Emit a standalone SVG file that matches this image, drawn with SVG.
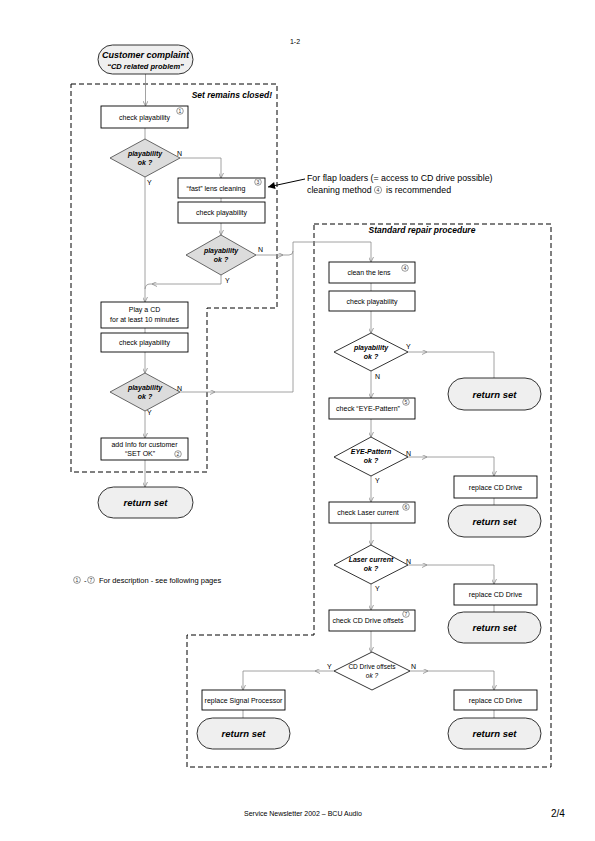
<svg xmlns="http://www.w3.org/2000/svg" width="595" height="841" viewBox="0 0 595 841">
<style>
.box{fill:#fff;stroke:#000;stroke-width:0.9}
.dia{fill:#dcdcdc;stroke:#444;stroke-width:0.8}
.diaw{fill:#fff;stroke:#000;stroke-width:0.8}
.term{fill:#efefef;stroke:#000;stroke-width:0.8}
.zone{fill:none;stroke:#000;stroke-width:1;stroke-dasharray:5,3}
text{font-family:"Liberation Sans",Arial,sans-serif;fill:#000}
.t{font-size:7px;text-anchor:middle}
.bi{font-weight:bold;font-style:italic}
.yn{font-size:7px}
.c{fill:none;stroke:#8a8a8a;stroke-width:0.8}
.a{marker-end:url(#arr)}
.num{fill:#fff;stroke:#555;stroke-width:0.6}
.nt{font-size:5px;text-anchor:middle;fill:#333}
</style>
<defs>
<marker id="arr" viewBox="0 0 10 10" refX="10" refY="5" markerWidth="5" markerHeight="5" markerUnits="userSpaceOnUse" orient="auto">
<path d="M0,0 L10,5 L0,10" fill="none" stroke="#8a8a8a" stroke-width="1.6"/>
</marker>
<marker id="fa" viewBox="0 0 10 10" refX="10" refY="5" markerWidth="9" markerHeight="7" markerUnits="userSpaceOnUse" orient="auto">
<path d="M0,0 L10,5 L0,10 Z" fill="#000"/>
</marker>
</defs>

<text x="295" y="44" style="font-size:7px" text-anchor="middle">1-2</text>

<g id="zones">
<path class="zone" d="M71,84 H277 V308 H207 V472 H71 Z"/>
<text x="272" y="98" class="bi" style="font-size:8.5px" text-anchor="end">Set remains closed!</text>
<path class="zone" d="M314,224 H551 V767 H187 V635 H314 Z"/>
<text x="422" y="233" class="bi" style="font-size:8.5px" text-anchor="middle">Standard repair procedure</text>
</g>

<g id="connectors">
<path class="c a" d="M145.5,74 V106"/>
<path class="c" d="M145,128 V139"/>
<path class="c a" d="M180,158 H221 V178"/>
<path class="c" d="M221,198 V202"/>
<path class="c a" d="M221,223 V235"/>
<path class="c a" d="M145,177 V302"/>
<path class="c a" d="M221,275 V284 H152"/>
<path class="c" d="M152,284 H150 Q145.5,284 145,289"/>
<path class="c a" d="M256,255 H283"/>
<path class="c" d="M283,255 H289 Q293,255 293,251"/>
<path class="c a" d="M180,392 H215"/>
<path class="c a" d="M215,392 H293 V242 H371 V262"/>
<path class="c" d="M145,328 V333"/>
<path class="c a" d="M145,352 V373"/>
<path class="c a" d="M145,411 V438"/>
<path class="c a" d="M145,460 V487"/>
<path class="c" d="M371,283 V291"/>
<path class="c a" d="M371,311 V333"/>
<path class="c a" d="M408,352 H427"/>
<path class="c" d="M427,352 H494 V378"/>
<path class="c a" d="M371,371 V398"/>
<path class="c a" d="M371,419 V437"/>
<path class="c a" d="M408,457 H427"/>
<path class="c a" d="M427,457 H494 V476"/>
<path class="c" d="M494,498 V505"/>
<path class="c a" d="M371,476 V502"/>
<path class="c a" d="M371,523 V545"/>
<path class="c a" d="M408,565 H427"/>
<path class="c a" d="M427,565 H494 V584"/>
<path class="c" d="M494,605 V612"/>
<path class="c a" d="M371,584 V610"/>
<path class="c a" d="M371,631 V652"/>
<path class="c a" d="M334,671 H315"/>
<path class="c a" d="M315,671 H243 V690"/>
<path class="c" d="M243,710 V718"/>
<path class="c a" d="M410,671 H428"/>
<path class="c a" d="M428,671 H494 V690"/>
<path class="c" d="M494,710 V718"/>
<path d="M305,179 L268,187" fill="none" stroke="#000" stroke-width="1" marker-end="url(#fa)"/>
</g>

<g id="start">
<rect class="term" x="98" y="45" width="95" height="29" rx="14.5"/>
<text x="145.5" y="58" class="t bi" style="font-size:9px">Customer complaint</text>
<text x="145.5" y="68.5" class="t bi" style="font-size:7.5px">“CD related problem”</text>
</g>

<g id="n1">
<rect class="box" x="101" y="106" width="87" height="22"/>
<text x="144.5" y="119.5" class="t">check playability</text>
<circle class="num" cx="180" cy="111" r="3.3"/><text x="180" y="112.8" class="nt">1</text>
</g>
<g id="d1">
<polygon class="dia" points="145,139 180,158 145,177 110,158"/>
<text x="145" y="155.5" class="t bi">playability</text>
<text x="145" y="164.5" class="t bi">ok ?</text>
<text x="177" y="156" class="yn">N</text>
<text x="147" y="185" class="yn">Y</text>
</g>
<g id="n3">
<rect class="box" x="178" y="178" width="87" height="20"/>
<text x="216" y="190.5" class="t">“fast” lens cleaning</text>
<circle class="num" cx="258" cy="182" r="3.3"/><text x="258" y="183.8" class="nt">3</text>
</g>
<g id="n3b">
<rect class="box" x="178" y="202" width="87" height="21"/>
<text x="221.5" y="215" class="t">check playability</text>
</g>
<g id="d2">
<polygon class="dia" points="221,235 256,255 221,275 186,255"/>
<text x="221" y="252.5" class="t bi">playability</text>
<text x="221" y="261.5" class="t bi">ok ?</text>
<text x="258" y="252" class="yn">N</text>
<text x="225" y="283" class="yn">Y</text>
</g>
<g id="note">
<text x="307" y="181" style="font-size:8.8px">For flap loaders (= access to CD drive possible)</text>
<text x="307" y="193" style="font-size:8.8px">cleaning method <tspan dx="12">is recommended</tspan></text>
<circle class="num" cx="378" cy="190" r="3.6"/><text x="378" y="191.8" class="nt">4</text>
</g>
<g id="n_play">
<rect class="box" x="101" y="302" width="87" height="26"/>
<text x="144.5" y="312" class="t">Play a CD</text>
<text x="144.5" y="322" class="t">for at least 10 minutes</text>
</g>
<g id="n_check3">
<rect class="box" x="101" y="333" width="87" height="19"/>
<text x="144.5" y="345" class="t">check playability</text>
</g>
<g id="d3">
<polygon class="dia" points="145,373 180,392 145,411 110,392"/>
<text x="145" y="389.5" class="t bi">playability</text>
<text x="145" y="398.5" class="t bi">ok ?</text>
<text x="177" y="391" class="yn">N</text>
<text x="147" y="415" class="yn">Y</text>
</g>
<g id="n2">
<rect class="box" x="101" y="438" width="87" height="22"/>
<text x="144.5" y="447" class="t">add Info for customer</text>
<text x="140" y="456" class="t">“SET OK”</text>
<circle class="num" cx="178" cy="454" r="3.3"/><text x="178" y="455.8" class="nt">2</text>
</g>
<g id="ret1">
<rect class="term" x="98" y="487" width="95" height="31" rx="15.5"/>
<text x="145.5" y="506" class="t bi" style="font-size:9.5px">return set</text>
</g>

<g id="n4">
<rect class="box" x="329" y="262" width="86" height="21"/>
<text x="369" y="275" class="t">clean the lens</text>
<circle class="num" cx="405" cy="268" r="3.3"/><text x="405" y="269.8" class="nt">4</text>
</g>
<g id="n4b">
<rect class="box" x="329" y="291" width="86" height="20"/>
<text x="372" y="303.5" class="t">check playability</text>
</g>
<g id="d4">
<polygon class="diaw" points="371,333 408,352 371,371 334,352"/>
<text x="371" y="349.5" class="t bi">playability</text>
<text x="371" y="358.5" class="t bi">ok ?</text>
<text x="406" y="349" class="yn">Y</text>
<text x="375" y="379" class="yn">N</text>
</g>
<g id="ret2">
<rect class="term" x="448" y="378" width="93" height="32" rx="16"/>
<text x="494.5" y="397.5" class="t bi" style="font-size:9.5px">return set</text>
</g>
<g id="n5">
<rect class="box" x="329" y="398" width="86" height="21"/>
<text x="368" y="411" class="t">check “EYE-Pattern”</text>
<circle class="num" cx="406" cy="402" r="3.3"/><text x="406" y="403.8" class="nt">5</text>
</g>
<g id="d5">
<polygon class="diaw" points="371,437 408,457 371,476 334,457"/>
<text x="371" y="454" class="t bi">EYE-Pattern</text>
<text x="371" y="463" class="t bi">ok ?</text>
<text x="406" y="456" class="yn">N</text>
<text x="375" y="483" class="yn">Y</text>
</g>
<g id="rep1">
<rect class="box" x="454" y="476" width="83" height="22"/>
<text x="495.5" y="489.5" class="t">replace CD Drive</text>
</g>
<g id="ret3">
<rect class="term" x="448" y="505" width="93" height="32" rx="16"/>
<text x="494.5" y="524.5" class="t bi" style="font-size:9.5px">return set</text>
</g>
<g id="n6">
<rect class="box" x="329" y="502" width="86" height="21"/>
<text x="368" y="515" class="t">check Laser current</text>
<circle class="num" cx="406" cy="507" r="3.3"/><text x="406" y="508.8" class="nt">6</text>
</g>
<g id="d6">
<polygon class="diaw" points="371,545 408,565 371,584 334,565"/>
<text x="371" y="562" class="t bi">Laser current</text>
<text x="371" y="571" class="t bi">ok ?</text>
<text x="406" y="564" class="yn">N</text>
<text x="375" y="591" class="yn">Y</text>
</g>
<g id="rep2">
<rect class="box" x="454" y="584" width="83" height="21"/>
<text x="495.5" y="597" class="t">replace CD Drive</text>
</g>
<g id="ret4">
<rect class="term" x="448" y="612" width="93" height="31" rx="15.5"/>
<text x="494.5" y="631" class="t bi" style="font-size:9.5px">return set</text>
</g>
<g id="n7">
<rect class="box" x="329" y="610" width="86" height="21"/>
<text x="368" y="623" class="t">check CD Drive offsets</text>
<circle class="num" cx="406" cy="614" r="3.3"/><text x="406" y="615.8" class="nt">7</text>
</g>
<g id="d7">
<polygon class="diaw" points="372,652 410,671 372,690 334,671"/>
<text x="372" y="668.5" class="t" style="font-size:6.5px">CD Drive offsets</text>
<text x="372" y="677.5" class="t" style="font-size:6.5px" font-style="italic">ok ?</text>
<text x="327" y="669" class="yn">Y</text>
<text x="411" y="669" class="yn">N</text>
</g>
<g id="rep3">
<rect class="box" x="202" y="690" width="83" height="20"/>
<text x="243.5" y="702.5" class="t">replace Signal Processor</text>
</g>
<g id="ret5">
<rect class="term" x="197" y="718" width="93" height="31" rx="15.5"/>
<text x="243.5" y="737" class="t bi" style="font-size:9.5px">return set</text>
</g>
<g id="rep4">
<rect class="box" x="454" y="690" width="83" height="20"/>
<text x="495.5" y="702.5" class="t">replace CD Drive</text>
</g>
<g id="ret6">
<rect class="term" x="448" y="718" width="93" height="31" rx="15.5"/>
<text x="494.5" y="737" class="t bi" style="font-size:9.5px">return set</text>
</g>

<g id="legend">
<circle class="num" cx="77" cy="580" r="3.4"/><text x="77" y="581.8" class="nt">1</text>
<text x="84" y="583" style="font-size:7.5px">-</text>
<circle class="num" cx="91" cy="580" r="3.4"/><text x="91" y="581.8" class="nt">7</text>
<text x="99" y="583" style="font-size:7.5px">For description - see following pages</text>
</g>

<g id="footer">
<text x="244" y="816" style="font-size:7px">Service Newsletter 2002 – BCU Audio</text>
<text x="551" y="817" style="font-size:10px">2/4</text>
</g>
</svg>
